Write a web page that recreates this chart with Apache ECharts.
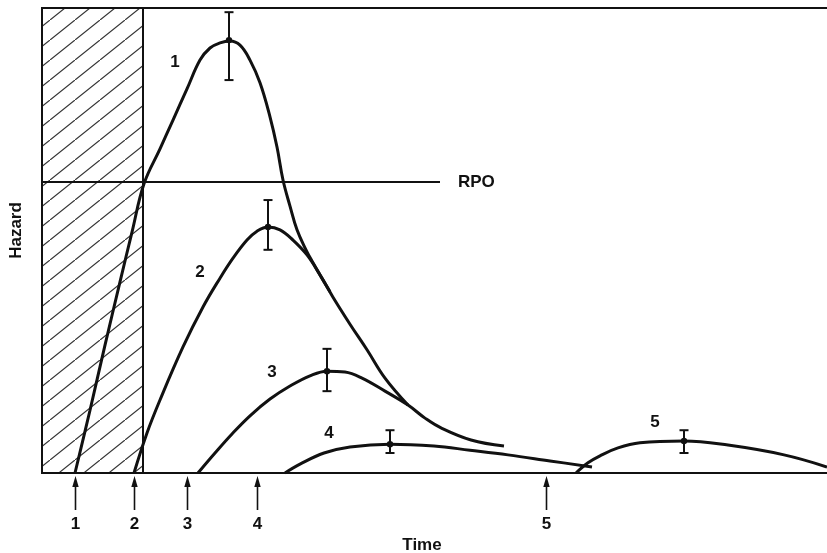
<!DOCTYPE html>
<html>
<head>
<meta charset="utf-8">
<style>
  html, body { margin: 0; padding: 0; background: #fff; }
  #chart { width: 827px; height: 553px; }
</style>
<script src="https://cdn.jsdelivr.net/npm/echarts@6/dist/echarts.min.js"></script>
</head>
<body>
<div id="chart"></div>
<script>
  // time / hazard in arbitrary units (hazard 0-100)
  const curve1 = [[3.3, 0], [4.8, 13.5], [6.3, 27.5], [7.8, 41.1], [9.0, 51.8], [10.2, 62.2], [11.8, 69.7],
    [13.1, 75.9], [14.5, 82.6], [15.8, 88.8], [16.8, 91.4], [17.8, 92.5], [18.8, 92.9], [19.8, 92.0],
    [20.8, 88.8], [21.8, 83.9], [22.8, 76.6], [23.5, 70.1], [24.1, 63.0], [24.8, 57.4], [25.5, 52.3],
    [26.4, 48.0], [27.1, 45.2], [27.8, 42.6], [28.8, 39.0]]
  const curve2 = [[9.2, 0], [10.5, 8.6], [11.8, 15.7], [14.1, 27.1], [16.1, 35.7], [17.8, 41.9], [19.1, 46.2],
    [20.5, 50.1], [21.5, 52.0], [22.6, 52.9], [23.8, 52.3], [25.1, 50.1], [26.5, 46.9], [27.8, 42.6],
    [29.1, 37.8], [30.8, 32.0], [32.5, 26.5], [34.3, 20.4], [36.6, 14.6]]
  const curve3 = [[15.6, 0], [17.3, 4.3], [19.0, 8.4], [20.8, 12.3], [22.8, 15.9], [24.8, 18.7], [26.8, 20.9],
    [28.5, 21.9], [30.3, 21.7], [32.0, 20.4], [34.3, 17.6], [36.6, 14.6], [38.3, 11.8], [39.9, 9.7],
    [42.9, 7.1], [46.2, 5.8]]
  const curve4 = [[24.3, 0], [25.8, 1.9], [28.2, 4.3], [30.8, 5.6], [34.8, 6.2], [39.2, 5.8], [42.8, 4.9],
    [46.6, 3.9], [50.8, 2.6], [55.0, 1.3]]
  const curve5 = [[53.4, 0], [54.6, 2.2], [55.8, 3.7], [57.6, 5.4], [59.8, 6.5], [64.2, 6.9], [68.6, 6.0],
    [74.2, 3.9], [78.5, 1.3]]

  // peak estimates with error bars: [time, value, low, high]
  const peaks = [[18.7, 93.1, 84.5, 99.1], [22.6, 52.9, 48.0, 58.7], [28.5, 21.9, 17.6, 26.7],
    [34.8, 6.2, 4.3, 9.2], [64.2, 6.9, 4.3, 9.2]]

  const curveNames = ['1', '2', '3', '4', '5']
  const curveLabelAt = [[13.3, 88.4], [15.8, 43.2], [23.0, 21.7], [28.7, 8.6], [61.3, 10.8]]

  const timeMarks = [3.3, 9.2, 14.5, 21.5, 50.4]
  const timeMarkLabels = ['1', '2', '3', '4', '5']

  const rpoLevel = 62.6
  const rpoEnd = 39.8
  const blindEnd = 10.1
  const timeMax = 78.5
  const hazardMax = 100

  const ink = '#111'
  const font = "'Liberation Sans Narrow', 'Liberation Sans', Arial, sans-serif"

  // diagonal hatch tile
  const hatch = document.createElement('canvas')
  hatch.width = 25
  hatch.height = 20
  const hc = hatch.getContext('2d')
  hc.strokeStyle = '#333'
  hc.lineWidth = 1.2
  hc.beginPath()
  hc.moveTo(-2.5, 22)
  hc.lineTo(27.5, -2)
  hc.stroke()

  const curves = [curve1, curve2, curve3, curve4, curve5]

  const chart = echarts.init(document.getElementById('chart'))
  chart.setOption({
    animation: false,
    grid: { left: 42, right: 0, top: 8, bottom: 80, outerBoundsMode: 'none' },
    xAxis: [
      {
        type: 'value', min: 0, max: timeMax,
        axisLine: { show: true, lineStyle: { color: ink, width: 2 } },
        axisTick: { show: false }, axisLabel: { show: false }, splitLine: { show: false },
        name: 'Time', nameLocation: 'middle', nameGap: 64,
        nameTextStyle: { color: ink, fontSize: 17, fontWeight: 'bold', fontFamily: font, padding: [0, 25, 0, 0] },
      },
      {
        type: 'value', position: 'top', min: 0, max: timeMax,
        axisLine: { show: true, lineStyle: { color: ink, width: 2 } },
        axisTick: { show: false }, axisLabel: { show: false }, splitLine: { show: false },
      },
    ],
    yAxis: {
      type: 'value', min: 0, max: hazardMax,
      axisLine: { show: true, lineStyle: { color: ink, width: 2 } },
      axisTick: { show: false }, axisLabel: { show: false }, splitLine: { show: false },
      name: 'Hazard', nameLocation: 'middle', nameGap: 17, nameRotate: 90,
      nameTextStyle: { color: ink, fontSize: 17, fontWeight: 'bold', fontFamily: font, padding: [0, 0, 0, 20] },
    },
    series: [
      {
        type: 'line', z: 1,
        data: [[0, rpoLevel], [rpoEnd, rpoLevel]],
        showSymbol: false,
        lineStyle: { color: ink, width: 2 },
        endLabel: { show: true, formatter: 'RPO', distance: 18, color: ink, fontSize: 17, fontWeight: 'bold', fontFamily: font },
        markArea: {
          silent: true,
          itemStyle: { color: { image: hatch, repeat: 'repeat' }, borderColor: ink, borderWidth: 2 },
          data: [[{ coord: [0, 0] }, { coord: [blindEnd, hazardMax] }]],
        },
      },
      ...curves.map((c) => ({
        type: 'line', z: 5,
        data: c,
        smooth: 0.4,
        showSymbol: false,
        lineStyle: { color: ink, width: 3 },
      })),
      {
        type: 'custom', z: 6,
        data: peaks,
        renderItem(params, api) {
          const t = api.value(0)
          const hi = api.coord([t, api.value(3)])
          const lo = api.coord([t, api.value(2)])
          const mid = api.coord([t, api.value(1)])
          const x = hi[0]
          const s = { stroke: ink, lineWidth: 2 }
          return {
            type: 'group',
            children: [
              { type: 'line', shape: { x1: x, y1: hi[1], x2: x, y2: lo[1] }, style: s },
              { type: 'line', shape: { x1: x - 4.5, y1: hi[1], x2: x + 4.5, y2: hi[1] }, style: s },
              { type: 'line', shape: { x1: x - 4.5, y1: lo[1], x2: x + 4.5, y2: lo[1] }, style: s },
              { type: 'circle', shape: { cx: x, cy: mid[1], r: 3.2 }, style: { fill: ink } },
            ],
          }
        },
      },
      {
        type: 'scatter', z: 6,
        symbolSize: 0,
        itemStyle: { opacity: 1 },
        data: curveNames.map((n, i) => ({ name: n, value: curveLabelAt[i] })),
        label: {
          show: true, position: 'inside', formatter: '{b}',
          color: ink, fontSize: 17, fontWeight: 'bold', fontFamily: font,
        },
      },
      {
        type: 'custom', z: 6, clip: false,
        data: timeMarks.map((t, i) => [t, 0, i]),
        renderItem(params, api) {
          const p = api.coord([api.value(0), 0])
          const x = Math.round(p[0]) + 0.5
          const y = p[1]
          return {
            type: 'group',
            children: [
              { type: 'line', shape: { x1: x, y1: y + 10, x2: x, y2: y + 37 }, style: { stroke: ink, lineWidth: 1.6 } },
              { type: 'polygon', shape: { points: [[x, y + 3], [x - 3.2, y + 14], [x + 3.2, y + 14]] }, style: { fill: ink } },
              {
                type: 'text', x: x, y: y + 51,
                style: {
                  text: timeMarkLabels[api.value(2)], fill: ink, align: 'center', verticalAlign: 'middle',
                  font: 'bold 17px ' + font,
                },
              },
            ],
          }
        },
      },
    ],
  })
</script>
</body>
</html>
